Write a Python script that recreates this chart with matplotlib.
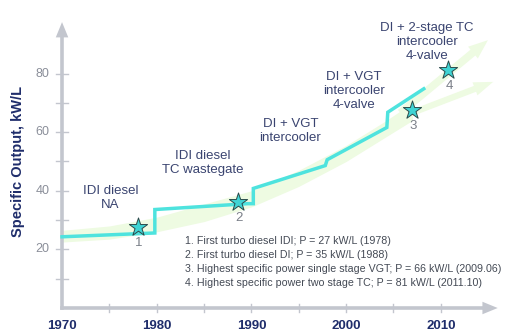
import matplotlib
matplotlib.use("Agg")
import matplotlib.pyplot as plt

plt.rcParams['font.family'] = ['Liberation Sans', 'DejaVu Sans']

# stepped trend line (year, kW/L)
line_years = [1970, 1979.8, 1979.8, 1989.6, 1990.2, 1990.2, 1997.8, 1998.0, 2004.3, 2004.4, 2008.2]
line_vals = [24.3, 25.6, 33.6, 35.6, 35.6, 40.8, 48.6, 50.6, 61.6, 66.8, 74.8]

# light green band behind the line
band_years = [1970, 1975, 1980, 1985, 1990, 1995, 2000, 2004, 2007]
band_low = [22.5, 23.5, 26.0, 29.5, 34.5, 41.5, 50.0, 58.0, 64.0]
band_high = [26.5, 28.0, 31.0, 35.5, 40.0, 47.0, 55.5, 63.5, 70.0]

# milestones
star_years = [1978.0, 1988.6, 2007.0, 2010.8]
star_vals = [27.6, 36.2, 67.6, 81.2]
star_names = ['1', '2', '3', '4']

era_labels = ['IDI diesel\nNA', 'IDI diesel\nTC wastegate', 'DI + VGT\nintercooler',
              'DI + VGT\nintercooler\n4-valve', 'DI + 2-stage TC\nintercooler\n4-valve']
era_x = [1975.1, 1984.9, 1994.1, 2000.8, 2008.5]
era_y = [37.5, 49.5, 60.4, 74.1, 90.8]

notes = ['1. First turbo diesel IDI; P = 27 kW/L (1978)',
         '2. First turbo diesel DI; P = 35 kW/L (1988)',
         '3. Highest specific power single stage VGT; P = 66 kW/L (2009.06)',
         '4. Highest specific power two stage TC; P = 81 kW/L (2011.10)']

x_ticks = [1970, 1980, 1990, 2000, 2010]
x_minor = [1975, 1985, 1995, 2005]
y_ticks = [20, 40, 60, 80]
y_minor = [10, 30, 50, 70]

navy = '#1f2d6b'
axis_gray = '#c3c6ce'
cyan = '#4ee3de'

fig = plt.figure(figsize=(5.18, 3.34), dpi=100)
ax = fig.add_axes([0, 0, 1, 1])
ax.set_xlim(1963.45, 2018.15)
ax.set_ylim(-8.87, 105.1)
ax.axis('off')

# band and fanning arrows
ax.fill_between(band_years, band_low, band_high, color='#eefbe2', lw=0, zorder=1)
ax.annotate('', xy=(2015.2, 92), xytext=(2005.5, 66),
            arrowprops=dict(arrowstyle='simple,head_width=1.1,head_length=1.4,tail_width=0.55',
                            color='#eefbe2', lw=0), zorder=1)
ax.annotate('', xy=(2015.8, 77.5), xytext=(2006.5, 66),
            arrowprops=dict(arrowstyle='simple,head_width=1.0,head_length=1.4,tail_width=0.45',
                            color='#eefbe2', lw=0), zorder=1)

# axes with arrow heads
ax.plot([1970, 2014.5], [0, 0], color=axis_gray, lw=2.6, zorder=2)
ax.plot([1970, 1970], [0, 93], color=axis_gray, lw=2.6, zorder=2)
ax.annotate('', xy=(2016.3, 0), xytext=(2013.5, 0),
            arrowprops=dict(arrowstyle='-|>,head_width=0.45,head_length=1.1', color=axis_gray, lw=0))
ax.annotate('', xy=(1970, 98.5), xytext=(1970, 92),
            arrowprops=dict(arrowstyle='-|>,head_width=0.45,head_length=1.1', color=axis_gray, lw=0))

for xt in x_ticks[1:] + x_minor:
    ax.plot([xt, xt], [-1.4, 1.4], color=axis_gray, lw=1, zorder=2)
for yt in y_ticks + y_minor:
    ax.plot([1969.4, 1970.6], [yt, yt], color=axis_gray, lw=1, zorder=2)

for xt in x_ticks:
    ax.text(xt, -6.0, str(xt), ha='center', va='center', fontsize=9.5, fontweight='bold', color=navy)
for yt in y_ticks:
    ax.text(1968.7, yt, str(yt), ha='right', va='center', fontsize=9, color='#8a8e99')

ax.text(1965.4, 50, 'Specific Output, kW/L', rotation=90, ha='center', va='center',
        fontsize=10.5, fontweight='bold', color=navy)

# trend line
ax.plot(line_years, line_vals, color=cyan, lw=2.5, solid_joinstyle='miter', zorder=3)

# stars
ax.scatter(star_years, star_vals, marker='*', s=190, color='#3fd4d4', edgecolor='#2a4a4a',
           linewidth=0.7, zorder=4)
for sx, sy, name in zip(star_years, star_vals, star_names):
    ax.text(sx + 0.1, sy - 5.4, name, ha='center', va='center', fontsize=9.5, color='#7a7f88')

for label, tx, ty in zip(era_labels, era_x, era_y):
    ax.text(tx, ty, label, ha='center', va='center', fontsize=9.5, color='#3a4470', linespacing=1.2)

for i, note in enumerate(notes):
    ax.text(1983.0, 23.0 - i * 4.8, note, ha='left', va='center', fontsize=7.7, color='#444a55')

fig.savefig('out.png', dpi=100)
